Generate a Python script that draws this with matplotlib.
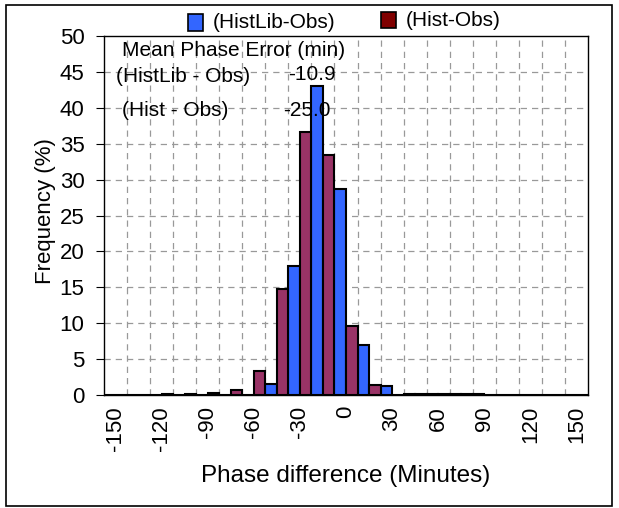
import numpy as np
import matplotlib
matplotlib.use("Agg")
import matplotlib.pyplot as plt
from matplotlib.patches import Rectangle

plt.rcParams['font.family'] = ['Liberation Sans', 'DejaVu Sans']

# phase difference bins (minutes), 15 min wide
bins = list(range(-150, 151, 15))
tick_labels = [str(b) for b in range(-150, 151, 30)]

# frequency (%) per bin
histlib_obs = [0, 0, 0, 0, 0, 0, 0.05, 1.5, 18.0, 43.0, 28.7, 7.0, 1.3, 0.15, 0.1, 0.1, 0.1, 0, 0, 0, 0]
hist_obs = [0, 0, 0.1, 0.1, 0.3, 0.75, 3.4, 14.7, 36.6, 33.4, 9.6, 1.4, 0.05, 0.1, 0.1, 0.1, 0.05, 0, 0, 0, 0]

mean_histlib = -10.9
mean_hist = -25.0

blue = '#3366FF'
plum = '#993366'
dark_red = '#800000'

W, H = 619, 508
fig = plt.figure(figsize=(W / 100, H / 100), dpi=100)


def fx(x):
    return x / W


def fy(y):
    return 1 - y / H


ax = fig.add_axes([fx(104), fy(395), fx(588) - fx(104), fy(36) - fy(395)])

x = np.arange(len(bins))
ax.bar(x - 0.25, histlib_obs, width=0.5, color=blue, edgecolor='black', linewidth=1.5, zorder=3)
ax.bar(x + 0.25, hist_obs, width=0.5, color=plum, edgecolor='black', linewidth=1.5, zorder=3)

ax.set_xlim(-0.5, len(bins) - 0.5)
ax.set_ylim(0, 50)
ax.set_yticks(range(0, 51, 5))

# category labels every 30 min
ax.set_xticks(x[::2])
ax.set_xticklabels(tick_labels, rotation=90, fontsize=16)
ax.tick_params(axis='x', length=0, pad=8)
ax.tick_params(axis='y', length=6, width=0.8, labelsize=16, pad=8, direction='out')

# grid: horizontal at ticks, vertical at category boundaries
for yv in range(5, 50, 5):
    ax.axhline(yv, color='#999999', linestyle=(0, (5, 4)), linewidth=0.9, zorder=1)
for xb in x[:-1] + 0.5:
    ax.axvline(xb, color='#999999', linestyle=(0, (5, 4)), linewidth=0.9, zorder=1)

for s in ax.spines.values():
    s.set_linewidth(1.0)
    s.set_color('black')

ax.set_ylabel('Frequency (%)', fontsize=16)
ax.yaxis.set_label_coords(fx(43) - fx(104), (fy(211) - fy(395)) / (fy(36) - fy(395)))
ax.set_xlabel('Phase difference (Minutes)', fontsize=17.5, va='center')
ax.xaxis.set_label_coords(0.5, (fy(476) - fy(395)) / (fy(36) - fy(395)))

# mean phase error annotation
fig.text(fx(122), fy(50), 'Mean Phase Error (min)', fontsize=15, va='center', ha='left')
fig.text(fx(116), fy(76), '(HistLib - Obs)', fontsize=15, va='center', ha='left')
fig.text(fx(288), fy(75), '%.1f' % mean_histlib, fontsize=15, va='center', ha='left')
fig.text(fx(122), fy(110), '(Hist - Obs)', fontsize=15, va='center', ha='left')
fig.text(fx(283), fy(110), '%.1f' % mean_hist, fontsize=15, va='center', ha='left')

# legend
fig.patches.append(Rectangle((fx(188), fy(31)), fx(15), fy(0) - fy(17), transform=fig.transFigure,
                             facecolor=blue, edgecolor='black', linewidth=1.2))
fig.text(fx(213), fy(22), '(HistLib-Obs)', fontsize=15, va='center', ha='left')
fig.patches.append(Rectangle((fx(381), fy(28)), fx(15), fy(0) - fy(16), transform=fig.transFigure,
                             facecolor=dark_red, edgecolor='black', linewidth=1.2))
fig.text(fx(406), fy(20), '(Hist-Obs)', fontsize=15, va='center', ha='left')

# outer frame
fig.patches.append(Rectangle((fx(6), fy(506)), fx(606), fy(0) - fy(501), transform=fig.transFigure,
                             fill=False, edgecolor='black', linewidth=1.2))

fig.savefig('out.png', dpi=100)
